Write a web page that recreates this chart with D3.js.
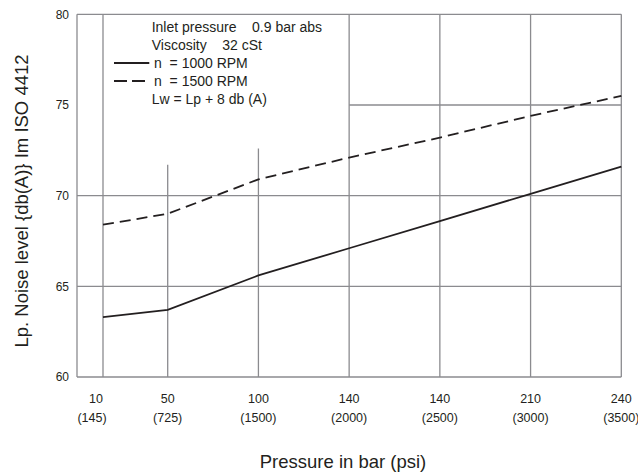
<!DOCTYPE html>
<html>
<head>
<meta charset="utf-8">
<script src="https://cdn.jsdelivr.net/npm/d3@7"></script>
<style>
  body { margin: 0; background: #fff; }
  svg { display: block; font-family: "Liberation Sans", Arial, sans-serif; }
</style>
</head>
<body>
<svg id="chart"></svg>
<script>
// pressure categories (bar) and their psi equivalents
const barLabels = ['10', '50', '100', '140', '140', '210', '240'];
const psiLabels = ['(145)', '(725)', '(1500)', '(2000)', '(2500)', '(3000)', '(3500)'];
// noise level Lp, db(A)
const rpm1000 = [63.3, 63.7, 65.6, 67.1, 68.6, 70.1, 71.6];
const rpm1500 = [68.4, 69.0, 70.9, 72.1, 73.2, 74.4, 75.5];
// where each vertical grid line stops at the top (db(A))
const gridTop = [80, 71.7, 72.6, 80, 80, 80, 80];
const yTicks = [60, 65, 70, 75, 80];
const legendLines = [
  {text: 'Inlet pressure    0.9 bar abs'},
  {text: 'Viscosity    32 cSt'},
  {text: 'n  = 1000 RPM', dash: null},
  {text: 'n  = 1500 RPM', dash: '13,5'},
  {text: 'Lw = Lp + 8 db (A)'}
];

const width = 638, height = 473;
const plotLeft = 77, plotTop = 14.3, plotBottom = 377;
const gridColor = '#8b8b8f', ink = '#231f20';

const svg = d3.select('#chart').attr('width', width).attr('height', height);

// the first step (10 -> 50 bar) is drawn narrower than the rest
const x = d3.scaleLinear().domain([0, 1, 6]).range([103, 167.7, 621.3]);
const y = d3.scaleLinear().domain([60, 80]).range([plotBottom, plotTop]);
const idx = d3.range(barLabels.length);

const grid = svg.append('g')
    .attr('stroke', gridColor)
    .attr('stroke-width', 1.3)
    .attr('fill', 'none');

// frame: left edge, top edge, bottom axis
grid.append('line').attr('x1', plotLeft).attr('x2', plotLeft).attr('y1', y(80)).attr('y2', y(60));
grid.append('line').attr('x1', plotLeft).attr('x2', x(6)).attr('y1', y(80)).attr('y2', y(80));
grid.append('line').attr('x1', plotLeft).attr('x2', x(6)).attr('y1', y(60)).attr('y2', y(60));

grid.selectAll('.vgrid')
  .data(idx)
  .join('line')
    .attr('class', 'vgrid')
    .attr('x1', i => x(i)).attr('x2', i => x(i))
    .attr('y1', i => y(gridTop[i])).attr('y2', y(60));

grid.selectAll('.hgrid')
  .data([65, 70, 75])
  .join('line')
    .attr('class', 'hgrid')
    .attr('x1', d => d === 75 ? x(3) : plotLeft)
    .attr('x2', x(6))
    .attr('y1', d => y(d)).attr('y2', d => y(d));

// y tick labels
svg.append('g')
    .attr('font-size', 12)
    .attr('fill', ink)
    .attr('text-anchor', 'end')
  .selectAll('text')
  .data(yTicks)
  .join('text')
    .attr('x', 69)
    .attr('y', d => y(d))
    .attr('dy', '0.35em')
    .text(d => d);

// x tick labels, two rows
const xl = svg.append('g')
    .attr('font-size', 12.5)
    .attr('fill', ink)
    .attr('text-anchor', 'middle');
xl.selectAll('.bar')
  .data(idx)
  .join('text')
    .attr('class', 'bar')
    .attr('x', i => x(i) - (i === 0 ? 7 : 0))
    .attr('y', 403)
    .text(i => barLabels[i]);
xl.selectAll('.psi')
  .data(idx)
  .join('text')
    .attr('class', 'psi')
    .attr('x', i => x(i) - (i === 0 ? 11 : 0))
    .attr('y', 422)
    .text(i => psiLabels[i]);

// axis titles
svg.append('text')
    .attr('x', 343).attr('y', 468)
    .attr('text-anchor', 'middle')
    .attr('font-size', 18.5)
    .attr('fill', ink)
    .text('Pressure in bar (psi)');
svg.append('text')
    .attr('transform', 'translate(28,201) rotate(-90)')
    .attr('text-anchor', 'middle')
    .attr('font-size', 18.5)
    .attr('fill', ink)
    .text('Lp. Noise level {db(A)} Im ISO 4412');

// data lines
const line = d3.line().x((d, i) => x(i)).y(d => y(d));
svg.append('path')
    .attr('d', line(rpm1000))
    .attr('fill', 'none')
    .attr('stroke', ink)
    .attr('stroke-width', 1.8);
svg.append('path')
    .attr('d', line(rpm1500))
    .attr('fill', 'none')
    .attr('stroke', ink)
    .attr('stroke-width', 1.8)
    .attr('stroke-dasharray', '11,6');

// legend text block
const lg = svg.append('g').attr('font-size', 14).attr('fill', ink);
legendLines.forEach((d, i) => {
  const ly = 32 + i * 18;
  const hasLine = 'dash' in d;
  lg.append('text')
      .attr('x', hasLine ? 154 : 151.7)
      .attr('y', ly)
      .style('white-space', 'pre')
      .text(d.text);
  if (hasLine) {
    lg.append('line')
        .attr('x1', 114).attr('x2', 149.3)
        .attr('y1', ly - 5).attr('y2', ly - 5)
        .attr('stroke', ink)
        .attr('stroke-width', 1.8)
        .attr('stroke-dasharray', d.dash);
  }
});
</script>
</body>
</html>
